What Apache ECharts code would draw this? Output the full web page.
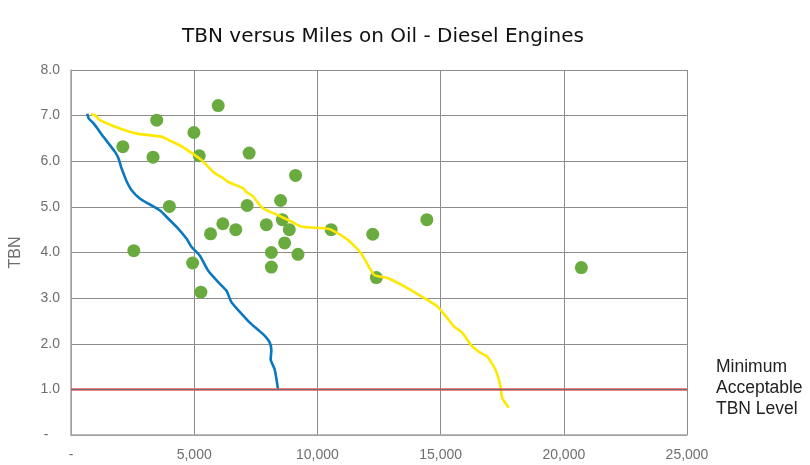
<!DOCTYPE html>
<html>
<head>
<meta charset="utf-8">
<script src="https://cdn.jsdelivr.net/npm/echarts@6/dist/echarts.min.js"></script>
<style>html,body{margin:0;padding:0;background:#fff;}#c{width:810px;height:465px;}</style>
</head>
<body>
<div id="c"></div>
<script>
var titleText = 'TBN versus Miles on Oil - Diesel Engines';
var yAxisName = 'TBN';
var noteText = 'Minimum\nAcceptable\nTBN Level';
var minTBN = 1.0;

// Blue curve
var blueMiles = [660, 716, 918, 1121, 1323, 1525, 1792, 1930, 2035, 2132, 2265, 2468, 2803, 3143, 3612, 3952, 4357, 4693, 4895, 5231, 5570, 5975, 6311, 6513, 7051, 7322, 7795, 8062, 8131, 8103, 8265, 8402];
var blueTBN = [7.04, 6.94, 6.83, 6.68, 6.53, 6.39, 6.20, 6.06, 5.87, 5.73, 5.55, 5.36, 5.18, 5.07, 4.92, 4.74, 4.52, 4.30, 4.12, 3.93, 3.60, 3.35, 3.16, 2.91, 2.58, 2.43, 2.21, 2.03, 1.85, 1.66, 1.44, 1.00];

// Yellow curve
var yellowMiles = [809, 971, 1174, 1647, 2185, 2728, 3671, 3942, 4480, 4816, 5289, 5828, 6168, 6370, 6977, 7110, 7382, 7786, 8393, 8932, 9336, 10279, 10550, 11226, 11765, 12303, 12845, 13654, 14464, 14868, 15273, 15540, 15880, 16285, 16621, 16892, 17228, 17430, 17499, 17766];
var yellowTBN = [7.03, 7.01, 6.90, 6.79, 6.68, 6.60, 6.54, 6.47, 6.33, 6.21, 6.03, 5.74, 5.63, 5.55, 5.41, 5.33, 5.23, 4.97, 4.82, 4.68, 4.57, 4.53, 4.50, 4.28, 3.99, 3.51, 3.44, 3.22, 2.96, 2.82, 2.56, 2.38, 2.24, 1.94, 1.80, 1.72, 1.43, 1.07, 0.81, 0.60];

// Scatter samples
var sampleMiles = [5975, 3479, 4988, 2104, 3329, 5206, 7229, 9114, 3993, 7148, 8507, 8576, 6161, 5663, 6687, 7929, 8859, 14442, 10558, 12245, 8669, 8131, 9211, 4935, 8131, 12391, 5271, 2549, 20712];
var sampleTBN = [7.22, 6.90, 6.63, 6.32, 6.09, 6.12, 6.18, 5.69, 5.01, 5.03, 5.14, 4.72, 4.63, 4.41, 4.50, 4.61, 4.50, 4.72, 4.50, 4.40, 4.21, 4.00, 3.96, 3.77, 3.68, 3.45, 3.13, 4.04, 3.67];

function zip(a, b) { return a.map(function (v, i) { return [v, b[i]]; }); }

var chart = echarts.init(document.getElementById('c'), null, {renderer: 'canvas'});
var labelColor = '#6e6e6e';
var ff = 'Liberation Sans, Arial, sans-serif';
chart.setOption({
  animation: false,
  backgroundColor: '#ffffff',
  title: {
    text: titleText,
    left: 378, top: 22, textAlign: 'center',
    textStyle: {fontFamily: 'DejaVu Sans, sans-serif', fontSize: 20, fontWeight: 'normal', color: '#111'}
  },
  grid: {left: 69, right: 123, top: 70, bottom: 30, containLabel: false, show: false},
  xAxis: {
    type: 'value', min: 0, max: 25000, interval: 5000,
    axisLine: {show: true, lineStyle: {color: '#a6a6a6', width: 1.5}},
    axisTick: {show: false},
    splitLine: {show: true, lineStyle: {color: '#8c8c8c', width: 1}},
    axisLabel: {
      margin: 13, color: labelColor, fontSize: 14, fontFamily: ff,
      formatter: function (v) { return v === 0 ? '-' : v.toLocaleString('en-US'); }
    }
  },
  yAxis: {
    type: 'value', min: 0, max: 8, interval: 1,
    name: yAxisName, nameLocation: 'middle', nameGap: 47, nameRotate: 90,
    nameTextStyle: {color: labelColor, fontSize: 16, fontFamily: ff},
    axisLine: {show: true, lineStyle: {color: '#a6a6a6', width: 1.5}},
    axisTick: {show: false},
    splitLine: {show: true, lineStyle: {color: '#8c8c8c', width: 1}},
    axisLabel: {
      margin: 11, color: labelColor, fontSize: 14, fontFamily: ff,
      formatter: function (v) { return v === 0 ? '-   ' : v.toFixed(1); }
    }
  },
  graphic: [{
    type: 'text', left: 716, top: 357,
    style: {text: noteText, fontSize: 17.5, lineHeight: 21, fill: '#222', fontFamily: ff}
  }],
  series: [
    {
      type: 'line', data: [], silent: true,
      markLine: {
        symbol: 'none', silent: true, label: {show: false},
        data: [{yAxis: minTBN + 0.01, lineStyle: {color: '#e4585e', width: 2.6, type: 'solid'}},
               {yAxis: minTBN, lineStyle: {color: '#707070', width: 1, type: 'solid'}}]
      }
    },
    {
      type: 'line', data: zip(blueMiles, blueTBN), showSymbol: false, smooth: 0.2,
      lineStyle: {color: '#0a78bf', width: 2.6}
    },
    {
      type: 'line', data: zip(yellowMiles, yellowTBN), showSymbol: false, smooth: 0.2,
      lineStyle: {color: '#ffe800', width: 2.6}
    },
    {
      type: 'scatter', data: zip(sampleMiles, sampleTBN), symbolSize: 13,
      itemStyle: {color: '#6aab40', opacity: 1}
    }
  ]
});
</script>
</body>
</html>
